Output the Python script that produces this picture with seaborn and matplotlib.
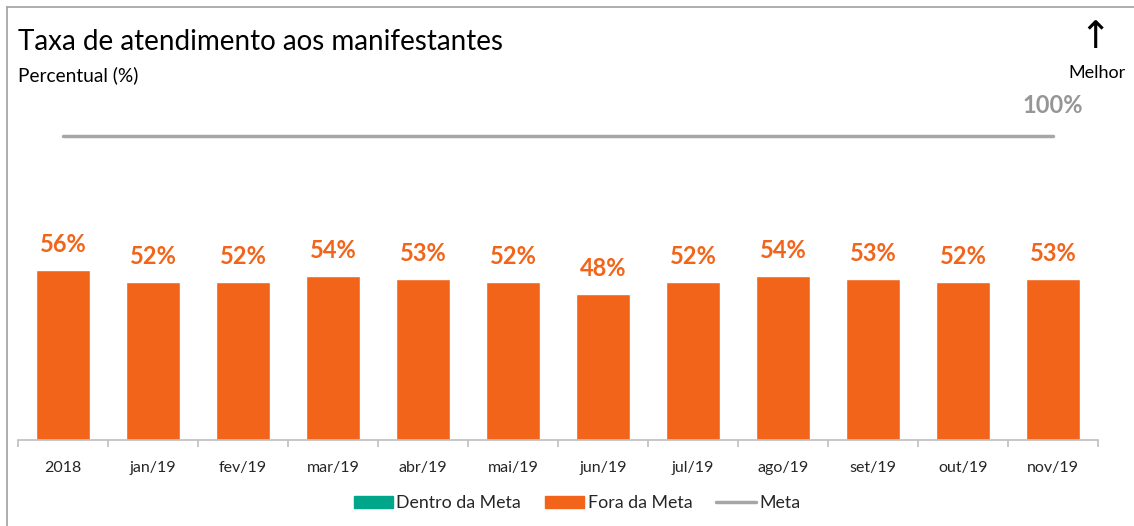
import matplotlib.pyplot as plt
import seaborn as sns
import pandas as pd
import numpy as np
from matplotlib.patches import Patch
from matplotlib.lines import Line2D

# Données
periodos = ['2018', 'jan/19', 'fev/19', 'mar/19', 'abr/19', 'mai/19',
            'jun/19', 'jul/19', 'ago/19', 'set/19', 'out/19', 'nov/19']
taxa = [56, 52, 52, 54, 53, 52, 48, 52, 54, 53, 52, 53]
meta = [100] * len(periodos)

laranja = '#F26419'
verde = '#00A68A'
cinza = '#A6A6A6'

df = pd.DataFrame({'periodo': periodos, 'taxa': taxa, 'meta': meta})

sns.set_theme(style='white')
plt.rcParams['font.family'] = ['Lato', 'DejaVu Sans']

fig = plt.figure(figsize=(11.34, 5.26), dpi=100)
ax = fig.add_axes([18 / 1134, 86 / 526, 1080 / 1134, 340 / 526])

sns.barplot(data=df, x='periodo', y='taxa', color=laranja, width=0.59,
            saturation=1, ax=ax)
sns.lineplot(data=df, x='periodo', y='meta', color=cinza, linewidth=2.5, ax=ax)

# Etiquetas das barras
for i, v in enumerate(taxa):
    ax.annotate(f'{v}%', (i, v), xytext=(0, 10), textcoords='offset points',
                ha='center', va='bottom', color=laranja, fontsize=17,
                fontweight='bold')
ax.annotate('100%', (11, 100), xytext=(0, 14), textcoords='offset points',
            ha='center', va='bottom', color='#969696', fontsize=17,
            fontweight='bold')

ax.set_xlim(-0.5, len(periodos) - 0.5)
ax.set_ylim(0, 112)
ax.set_xlabel('')
ax.set_ylabel('')
ax.set_yticks([])
for s in ['top', 'right', 'left']:
    ax.spines[s].set_visible(False)
ax.spines['bottom'].set_color('#BFBFBF')
ax.spines['bottom'].set_linewidth(1.2)
ax.set_xticks(np.arange(-0.5, len(periodos)), minor=True)
ax.tick_params(axis='x', which='major', length=0, pad=15, labelsize=11.5,
               labelcolor='#262626')
ax.tick_params(axis='x', which='minor', length=5, width=1.2, color='#BFBFBF',
               direction='out', bottom=True)

# Títulos
fig.text(18 / 1134, 1 - 42 / 526, 'Taxa de atendimento aos manifestantes',
         fontsize=20, va='center', ha='left', color='black')
fig.text(18 / 1134, 1 - 75 / 526, 'Percentual (%)', fontsize=13.8,
         va='center', ha='left', color='black')
fig.text(1095 / 1134, 1 - 38 / 526, '↑', fontsize=27, va='center',
         ha='center', family='DejaVu Sans', color='black')
fig.text(1097 / 1134, 1 - 73 / 526, 'Melhor', fontsize=13, va='center',
         ha='center', color='black')

# Borda
fig.add_artist(Line2D([7 / 1134, 7 / 1134], [0, 1 - 7 / 526],
                      transform=fig.transFigure, color='#A0A0A0', lw=1.2))
fig.add_artist(Line2D([7 / 1134, 1], [1 - 7 / 526, 1 - 7 / 526],
                      transform=fig.transFigure, color='#A0A0A0', lw=1.2))

# Legenda
handles = [Patch(color=verde, label='Dentro da Meta'),
           Patch(color=laranja, label='Fora da Meta'),
           Line2D([0], [0], color=cinza, lw=2.5, label='Meta')]
fig.legend(handles=handles, loc='center', bbox_to_anchor=(577 / 1134, 23 / 526),
           ncol=3, frameon=False, fontsize=12.8, handlelength=2.2,
           handleheight=0.7, handletextpad=0.2, columnspacing=1.35,
           labelcolor='#262626')

fig.savefig('out.png', dpi=100)
